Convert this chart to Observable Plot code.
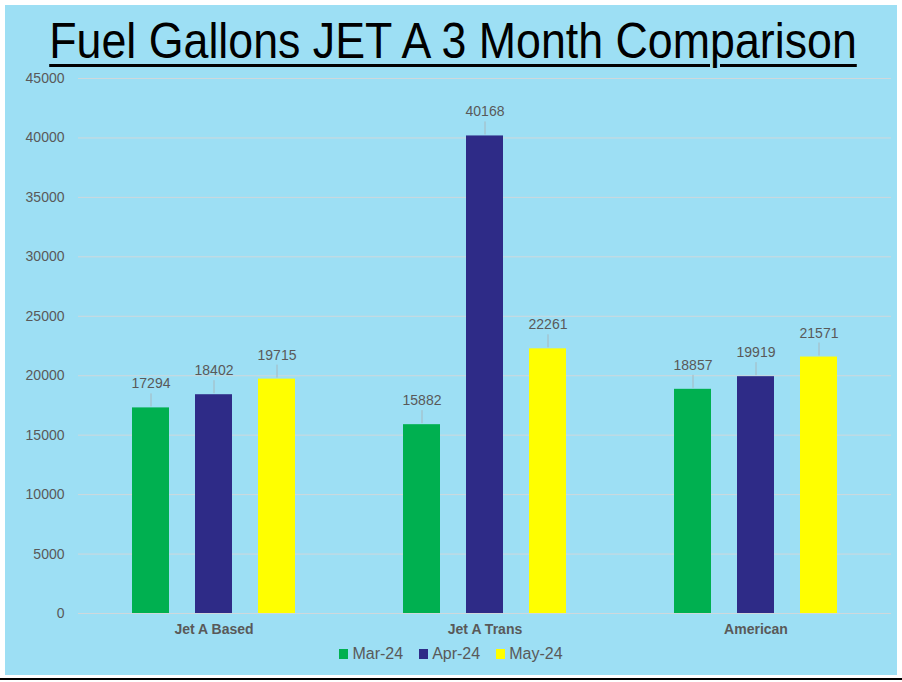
<!DOCTYPE html>
<html>
<head>
<meta charset="utf-8">
<script src="https://cdn.jsdelivr.net/npm/d3@7"></script>
<script src="https://cdn.jsdelivr.net/npm/@observablehq/plot@0.6"></script>
<style>
  html, body { margin: 0; padding: 0; background: #ffffff; width: 902px; height: 682px; overflow: hidden; }
  #panel { position: absolute; left: 5px; top: 5px; width: 892px; height: 670px; background: #9ddff4; }
  #title { position: absolute; left: 448px; top: 8px; white-space: nowrap; font-family: "Liberation Sans", Arial, sans-serif; font-size: 50px; color: #000;
    transform: translateX(-50%) scaleX(0.895); text-decoration: underline; text-decoration-thickness: 3px; text-underline-offset: 6px; line-height: 56px; }
  #chart { position: absolute; left: 0; top: 61px; }
  #legend { position: absolute; left: 0; top: 640px; width: 892px; display: flex; justify-content: center; gap: 16px;
    font-family: "Liberation Sans", Arial, sans-serif; font-size: 16px; color: #595959; }
  #legend .item { display: flex; align-items: center; gap: 4px; }
  #legend .sw { width: 9px; height: 10px; display: inline-block; }
  #rule { position: absolute; left: 0; top: 678px; width: 902px; height: 2px; background: #000; }
</style>
</head>
<body>
<div id="panel">
  <div id="title">Fuel Gallons JET A 3 Month Comparison</div>
  <div id="chart"></div>
  <div id="legend"></div>
</div>
<div id="rule"></div>
<script>
const groups = ["Jet A Based", "Jet A Trans", "American"];
const months = ["Mar-24", "Apr-24", "May-24"];
const mar24 = [17294, 15882, 18857];
const apr24 = [18402, 40168, 19919];
const may24 = [19715, 22261, 21571];
const colors = ["#00b050", "#2e2b87", "#ffff00"];
const yTicks = [0, 5000, 10000, 15000, 20000, 25000, 30000, 35000, 40000, 45000];

const seriesValues = [mar24, apr24, may24];
const data = [];
groups.forEach((g, gi) => {
  months.forEach((m, mi) => {
    data.push({group: g, month: m, value: seriesValues[mi][gi]});
  });
});

const textColor = "#595959";
const chart = Plot.plot({
  width: 892,
  height: 580,
  marginLeft: 73,
  marginRight: 6,
  marginTop: 12,
  marginBottom: 33,
  style: { background: "transparent", fontFamily: "'Liberation Sans', Arial, sans-serif" },
  fx: { domain: groups, padding: 0, label: null },
  x: { domain: months, paddingInner: 0.413, paddingOuter: 0.857, axis: null },
  y: { domain: [0, 45000], ticks: yTicks, label: null },
  color: { domain: months, range: colors },
  marks: [
    Plot.gridY(yTicks, { stroke: "#cfd8dc", strokeOpacity: 1, strokeWidth: 1 }),
    Plot.axisY(yTicks, { tickSize: 0, tickPadding: 14, fontSize: 14, fill: textColor, label: null, tickFormat: d => String(d) }),
    Plot.axisFx({ anchor: "bottom", tickSize: 0, tickPadding: 11, fontSize: 14, fontWeight: "bold", fill: textColor, label: null }),
    Plot.barY(data, { fx: "group", x: "month", y: "value", fill: "month" }),
    Plot.ruleX(data, { fx: "group", x: "month", y1: "value", y2: "value", insetTop: -14, insetBottom: 1, stroke: "#a6b8bf", strokeWidth: 1 }),
    Plot.text(data, { fx: "group", x: "month", y: "value", text: d => String(d.value), dy: -24, fontSize: 14, fill: textColor })
  ]
});
document.getElementById("chart").appendChild(chart);

const legend = document.getElementById("legend");
months.forEach((m, i) => {
  const item = document.createElement("div");
  item.className = "item";
  const sw = document.createElement("span");
  sw.className = "sw";
  sw.style.background = colors[i];
  const lbl = document.createElement("span");
  lbl.textContent = m;
  item.appendChild(sw);
  item.appendChild(lbl);
  legend.appendChild(item);
});
</script>
</body>
</html>
